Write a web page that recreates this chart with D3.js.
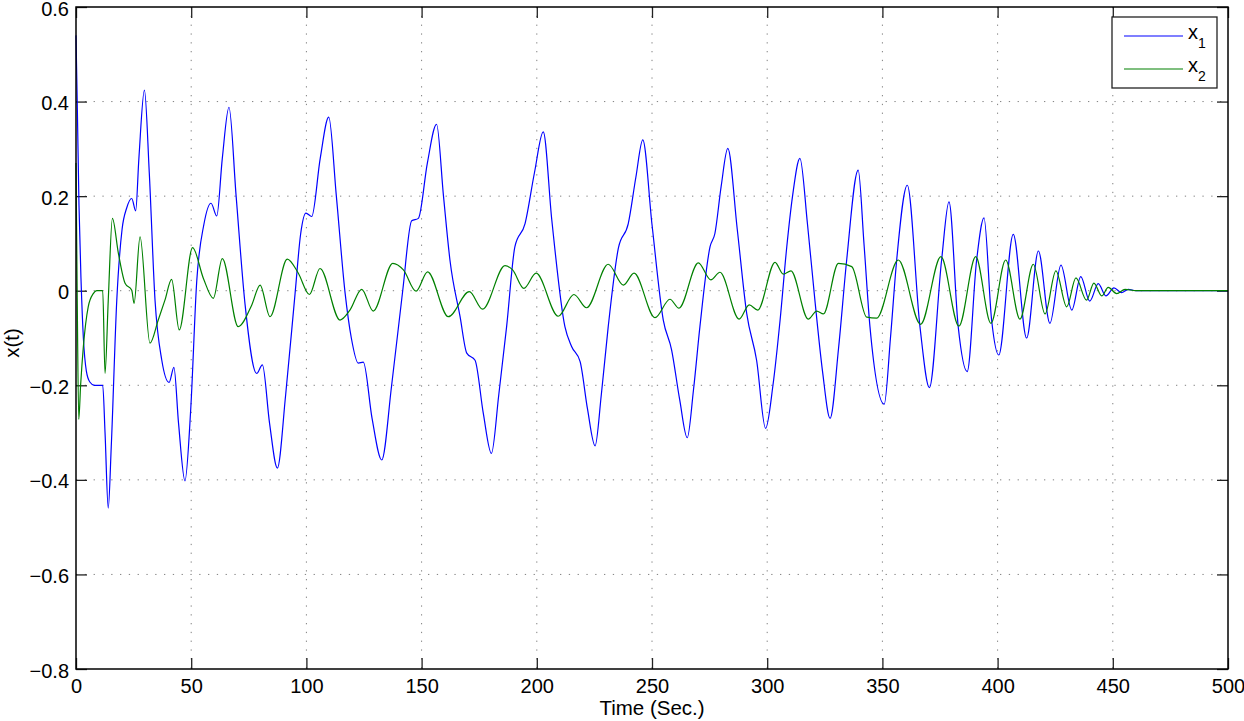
<!DOCTYPE html>
<html>
<head>
<meta charset="utf-8">
<script src="https://cdn.jsdelivr.net/npm/d3@7"></script>
<style>
  body { margin: 0; background: #fff; }
  svg { display: block; font-family: "Liberation Sans", Arial, sans-serif; }
</style>
</head>
<body>
<svg class="chart"></svg>
<script>
// x1 (blue) : time points and values
var x1Time = [0, 0.6, 1.3, 2.2, 3.2, 4.5, 6, 8, 11.6, 12.6, 14, 15.3, 17.7, 20, 22, 24.2, 25.9, 27.3, 29.7, 31.8,
  34.3, 37.2, 40.4, 42.5, 44.5, 47.3, 49.8, 52.4, 55.5, 58.6, 61.1, 63.5, 66.4, 69.5, 73.4, 78.4, 80.9, 84, 87.4, 91,
  95.1, 97.5, 99.8, 102.3, 106, 109.7, 113, 116.8, 119.5, 122.5, 124.7, 128.5, 132.7, 137, 141.8, 145.7, 148.6, 152.5, 156.5, 159.5,
  162.3, 166.7, 169.6, 173.2, 176.8, 180.3, 183.5, 186.9, 190.5, 194.9, 199, 202.8, 206.5, 212.2, 215.1, 218.8, 222, 225.3, 228, 231,
  235.4, 239.7, 243, 246, 250, 254.9, 258.5, 262, 265.3, 268, 270.8, 275.2, 277.3, 280, 282.9, 287, 291.1, 295.4, 299.3, 302.5,
  305.6, 308.5, 311, 314.2, 317.5, 320.7, 324, 327.3, 331, 334.5, 339.5, 342, 344.6, 350.8, 353.5, 356.2, 360.8, 366.3, 370.4, 375.7,
  378.9, 382.9, 386.8, 390.9, 394.1, 397.4, 400.5, 406.8, 412.6, 417.7, 422.7, 427.5, 432.2, 436.1, 440, 443.7, 447, 450.5, 453.8, 456.7,
  460, 500];
var x1Value = [0.54, 0.38, 0.18, 0.02, -0.1, -0.17, -0.193, -0.2, -0.2, -0.3, -0.46, -0.33, -0.02, 0.13, 0.175, 0.195, 0.169, 0.28, 0.424, 0.25,
  -0.02, -0.146, -0.194, -0.162, -0.28, -0.402, -0.25, 0.02, 0.14, 0.185, 0.158, 0.28, 0.388, 0.2, -0.03, -0.175, -0.157, -0.28, -0.375, -0.22,
  -0.005, 0.12, 0.164, 0.157, 0.28, 0.367, 0.2, -0.005, -0.1, -0.153, -0.151, -0.27, -0.358, -0.2, 0, 0.148, 0.153, 0.27, 0.352, 0.2,
  0.065, -0.055, -0.132, -0.147, -0.26, -0.344, -0.22, -0.076, 0.093, 0.142, 0.25, 0.336, 0.15, -0.076, -0.118, -0.15, -0.25, -0.328, -0.22, -0.076,
  0.09, 0.142, 0.24, 0.319, 0.14, -0.062, -0.125, -0.23, -0.311, -0.21, -0.076, 0.093, 0.121, 0.22, 0.301, 0.13, -0.048, -0.147, -0.291, -0.2,
  -0.062, 0.093, 0.2, 0.28, 0.14, -0.02, -0.17, -0.27, -0.12, 0.065, 0.255, 0.1, -0.076, -0.24, -0.1, 0.065, 0.223, -0.076, -0.205, 0.065,
  0.188, -0.076, -0.171, 0.065, 0.154, -0.062, -0.136, 0.119, -0.1, 0.084, -0.069, 0.054, -0.041, 0.03, -0.022, 0.015, -0.011, 0.006, -0.004, 0.003,
  0, 0];

// x2 (green)
var x2Time = [0, 0.5, 1.2, 2, 3.2, 5.3, 7.5, 9, 11.6, 12.6, 14, 15.8, 18.4, 21.3, 24.2, 25.2, 27.8, 32.1, 35.7, 38.6,
  41.5, 44.8, 50.6, 55.3, 59.6, 63.5, 70.4, 76.3, 79.9, 84.2, 91.7, 96.5, 101.3, 105.9, 114.6, 118.9, 124, 129, 137.5, 142.1,
  147.6, 152.6, 161.6, 170.7, 176.5, 186.2, 189.5, 194.4, 199.7, 209.3, 216.1, 221.6, 231, 237.6, 242.2, 251.3, 257.8, 261.7, 270.1, 275.5,
  279.5, 287.8, 292.2, 295.9, 303.4, 307, 310.3, 317.8, 321.5, 324.4, 330.9, 336.7, 343.2, 347.5, 356.9, 366.6, 375.4, 383.2, 390.5, 397.1,
  403.5, 409.7, 415.5, 420.6, 425.3, 430, 434, 438.6, 441.8, 445.2, 448, 451.7, 455.3, 460, 500];
var x2Value = [0.27, 0, -0.272, -0.2, -0.118, -0.034, -0.006, 0, 0, -0.175, -0.02, 0.153, 0.079, 0.016, 0.001, -0.027, 0.114, -0.111, -0.062, -0.02,
  0.024, -0.083, 0.091, 0.026, -0.016, 0.068, -0.076, -0.03, 0.012, -0.055, 0.067, 0.037, -0.008, 0.047, -0.062, -0.041, 0.003, -0.043, 0.058, 0.044,
  -0.001, 0.04, -0.055, -0.002, -0.039, 0.053, 0.044, 0.005, 0.037, -0.054, -0.008, -0.036, 0.056, 0.012, 0.037, -0.057, -0.018, -0.037, 0.059, 0.023,
  0.039, -0.06, -0.03, -0.041, 0.06, 0.035, 0.042, -0.06, -0.043, -0.049, 0.058, 0.051, -0.056, -0.058, 0.065, -0.071, 0.072, -0.075, 0.072, -0.069,
  0.065, -0.06, 0.056, -0.049, 0.042, -0.034, 0.027, -0.02, 0.016, -0.011, 0.007, -0.006, 0.003, 0, 0];

var xTicks = [0, 50, 100, 150, 200, 250, 300, 350, 400, 450, 500];
var yTicks = [-0.8, -0.6, -0.4, -0.2, 0, 0.2, 0.4, 0.6];
var seriesNames = ['1', '2'];
var seriesColors = ['#0000ff', '#008000'];

var W = 1244, H = 721;
var margin = {top: 7, right: 16, bottom: 52, left: 76};
var width = W - margin.left - margin.right;
var height = H - margin.top - margin.bottom;

var svg = d3.select('.chart').attr('width', W).attr('height', H);
var chart = svg.append('g')
  .attr('transform', 'translate(' + margin.left + ',' + margin.top + ')');

var x = d3.scaleLinear().domain([0, 500]).range([0, width]);
var y = d3.scaleLinear().domain([-0.8, 0.6]).range([height, 0]);

//grid
chart.append('g').selectAll('line')
  .data(xTicks.slice(1, -1))
  .enter().append('line')
  .attr('x1', d => x(d)).attr('x2', d => x(d))
  .attr('y1', 0).attr('y2', height)
  .attr('stroke', '#808080').attr('stroke-dasharray', '1.3,7.5');
chart.append('g').selectAll('line')
  .data(yTicks.slice(1, -1))
  .enter().append('line')
  .attr('y1', d => y(d)).attr('y2', d => y(d))
  .attr('x1', 0).attr('x2', width)
  .attr('stroke', '#808080').attr('stroke-dasharray', '1.3,7.5');

//axes with inward ticks, on all four sides
var fmtY = d => d === 0 ? '0' : d3.format('.1f')(d);
var xAxis = d3.axisBottom(x).tickValues(xTicks).tickSizeInner(-11).tickSizeOuter(0).tickPadding(10);
var yAxis = d3.axisLeft(y).tickValues(yTicks).tickFormat(fmtY).tickSizeInner(-11).tickSizeOuter(0).tickPadding(7);

var gx = chart.append('g').attr('transform', 'translate(0,' + height + ')').call(xAxis);
var gy = chart.append('g').call(yAxis);
var gx2 = chart.append('g').call(d3.axisTop(x).tickValues(xTicks).tickSizeInner(-11).tickSizeOuter(0).tickFormat(''));
var gy2 = chart.append('g').attr('transform', 'translate(' + width + ',0)')
  .call(d3.axisRight(y).tickValues(yTicks).tickSizeInner(-11).tickSizeOuter(0).tickFormat(''));

[gx, gy, gx2, gy2].forEach(g => {
  g.select('.domain').remove();
  g.selectAll('.tick line').attr('stroke', '#222').attr('stroke-width', 1.3);
  g.selectAll('text').attr('fill', '#000').style('font-size', '20px').style('font-family', '"Liberation Sans", Arial, sans-serif');
});
gy.selectAll('text').attr('dy', '0.4em');

//lines
var line = d3.line().x(d => x(d[0])).y(d => y(d[1])).curve(d3.curveMonotoneX);
var s1 = x1Time.map((t, i) => [t, x1Value[i]]);
var s2 = x2Time.map((t, i) => [t, x2Value[i]]);
chart.append('path').datum(s1).attr('d', line)
  .attr('fill', 'none').attr('stroke', seriesColors[0]).attr('stroke-width', 1.2);
chart.append('path').datum(s2).attr('d', line)
  .attr('fill', 'none').attr('stroke', seriesColors[1]).attr('stroke-width', 1.2);

//box
chart.append('rect').attr('width', width).attr('height', height)
  .attr('fill', 'none').attr('stroke', '#000').attr('stroke-width', 1.5);

//labels
svg.append('text').attr('x', 652).attr('y', 715)
  .attr('text-anchor', 'middle').style('font-size', '20.5px').text('Time (Sec.)');
svg.append('text').attr('transform', 'translate(19,343) rotate(-90)')
  .attr('text-anchor', 'middle').style('font-size', '20.5px').text('x(t)');

//legend
var leg = svg.append('g').attr('transform', 'translate(1112,17)');
leg.append('rect').attr('width', 105).attr('height', 71)
  .attr('fill', '#fff').attr('stroke', '#222').attr('stroke-width', 1.3);
seriesNames.forEach((n, i) => {
  var yy = 19 + i * 33;
  leg.append('line').attr('x1', 12).attr('x2', 71).attr('y1', yy).attr('y2', yy)
    .attr('stroke', seriesColors[i]).attr('stroke-width', 1.2);
  var t = leg.append('text').attr('x', 76).attr('y', yy + 3).style('font-size', '20px');
  t.append('tspan').text('x');
  t.append('tspan').attr('dy', 9).style('font-size', '14px').text(n);
});
</script>
</body>
</html>
